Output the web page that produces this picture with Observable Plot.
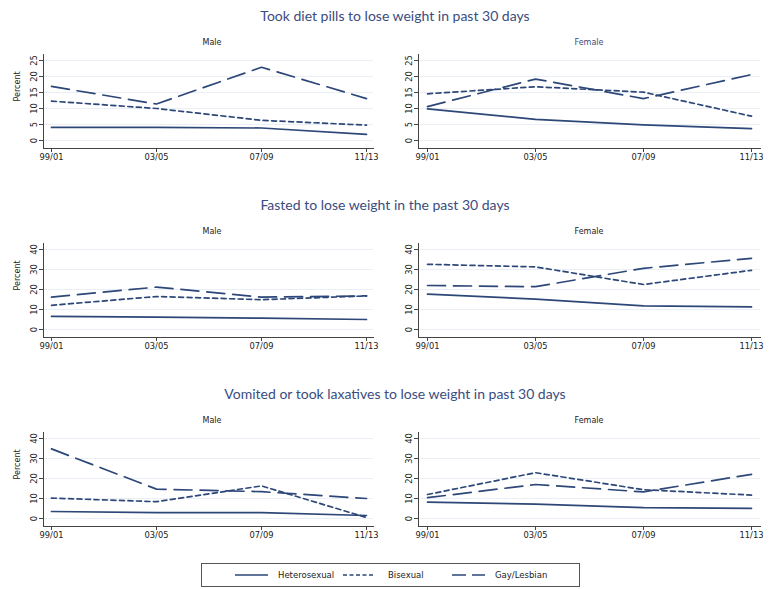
<!DOCTYPE html>
<html><head><meta charset="utf-8">
<script src="https://cdn.jsdelivr.net/npm/d3@7"></script>
<script src="https://cdn.jsdelivr.net/npm/@observablehq/plot@0.6"></script>
<style>
body{margin:0;background:#fff;}
#root{position:relative;width:770px;height:589px;overflow:hidden;font-family:"DejaVu Sans",sans-serif;}
.title{position:absolute;width:500px;text-align:center;color:#3a4c80;font-family:Lato,sans-serif;font-size:14px;line-height:20px;white-space:nowrap;}
.plabel{position:absolute;width:120px;text-align:center;font-size:8px;line-height:16px;color:#222;}
.panel{position:absolute;}
#legend{position:absolute;left:201px;top:563px;}
</style></head><body><div id="root"></div>
<script>
// ---- data ----
const periods = ["99/01", "03/05", "07/09", "11/13"];
const groups = ["Heterosexual", "Bisexual", "Gay/Lesbian"];
const sexes = ["Male", "Female"];
const rowTitles = [
  "Took diet pills to lose weight in past 30 days",
  "Fasted to lose weight in the past 30 days",
  "Vomited or took laxatives to lose weight in past 30 days"
];
const yTicksPills = [0, 5, 10, 15, 20, 25];
const yTicksOther = [0, 10, 20, 30, 40];

// Took diet pills
const pillsMaleHetero   = [4.1, 4.1, 3.9, 1.9];
const pillsMaleBi       = [12.3, 10.0, 6.3, 4.8];
const pillsMaleGay      = [16.9, 11.4, 22.9, 13.1];
const pillsFemaleHetero = [9.9, 6.6, 4.9, 3.7];
const pillsFemaleBi     = [14.6, 16.8, 15.1, 7.6];
const pillsFemaleGay    = [10.6, 19.2, 13.1, 20.6];
// Fasted
const fastMaleHetero    = [6.6, 6.2, 5.7, 5.0];
const fastMaleBi        = [12.1, 16.5, 14.9, 16.8];
const fastMaleGay       = [16.2, 21.2, 16.2, 16.8];
const fastFemaleHetero  = [17.7, 15.2, 11.8, 11.3];
const fastFemaleBi      = [32.6, 31.3, 22.5, 29.6];
const fastFemaleGay     = [22.0, 21.4, 30.6, 35.6];
// Vomited / laxatives
const vomMaleHetero     = [3.5, 2.9, 2.9, 1.5];
const vomMaleBi         = [10.2, 8.4, 16.3, 0.5];
const vomMaleGay        = [34.8, 14.7, 13.4, 10.0];
const vomFemaleHetero   = [8.2, 7.2, 5.4, 5.1];
const vomFemaleBi       = [12.0, 22.9, 14.4, 11.7];
const vomFemaleGay      = [10.4, 17.0, 13.3, 22.1];

// ---- styles ----
const lineColor = "#2d4778";
const dashes = [null, "5,3.5", "18,8"];

const root = document.getElementById("root");

function makeTable(series) {
  const rows = [];
  series.forEach((vals, gi) => vals.forEach((v, i) => rows.push({period: periods[i], group: groups[gi], value: v})));
  return rows;
}

function panel(series, yMax, yTicks, isMale) {
  const data = makeTable(series);
  return Plot.plot({
    width: 385, height: 125,
    marginLeft: isMale ? 43 : 33, marginRight: isMale ? 12 : 10,
    marginTop: 4, marginBottom: 27,
    insetLeft: 8, insetRight: isMale ? 7 : 8, insetTop: 6, insetBottom: 8,
    style: {fontFamily: "DejaVu Sans, sans-serif", fontSize: "8.3px", color: "#222", background: "transparent", overflow: "visible"},
    x: {type: "point", domain: periods, padding: 0, label: null},
    y: {domain: [0, yMax], label: null},
    marks: [
      Plot.gridY(yTicks, {stroke: "#e9eff5", strokeOpacity: 1}),
      Plot.frame({anchor: "left", stroke: "#444"}),
      Plot.frame({anchor: "bottom", stroke: "#444"}),
      Plot.axisX({tickSize: 4, tickPadding: 2, label: null, stroke: "#444"}),
      Plot.axisY(yTicks, {tickSize: 4, tickPadding: 3, tickRotate: -90, label: null, stroke: "#444"}),
      isMale ? Plot.text(["Percent"], {frameAnchor: "left", dx: -26, rotate: -90, fontSize: 8}) : null,
      ...groups.map((g, gi) => Plot.line(data.filter(d => d.group === g), {
        x: "period", y: "value", stroke: lineColor, strokeWidth: 1.7,
        strokeDasharray: dashes[gi]
      }))
    ]
  });
}

const rowSeries = [
  [[pillsMaleHetero, pillsMaleBi, pillsMaleGay], [pillsFemaleHetero, pillsFemaleBi, pillsFemaleGay]],
  [[fastMaleHetero, fastMaleBi, fastMaleGay], [fastFemaleHetero, fastFemaleBi, fastFemaleGay]],
  [[vomMaleHetero, vomMaleBi, vomMaleGay], [vomFemaleHetero, vomFemaleBi, vomFemaleGay]]
];
const rowYMax = [25, 40, 40];
const rowYTicks = [yTicksPills, yTicksOther, yTicksOther];
const titleCenters = [395, 385, 395];
const rowOffset = [0, 189, 378];

rowTitles.forEach((t, r) => {
  const off = rowOffset[r];
  const d = document.createElement("div");
  d.className = "title";
  d.textContent = t;
  d.style.left = (titleCenters[r] - 250) + "px";
  d.style.top = (6 + off) + "px";
  root.appendChild(d);

  sexes.forEach((s, si) => {
    const isMale = si === 0;
    const lab = document.createElement("div");
    lab.className = "plabel";
    lab.textContent = s;
    lab.style.left = ((isMale ? 212 : 589) - 60) + "px";
    lab.style.top = (35 + off) + "px";
    if (r === 0 && !isMale) lab.style.color = "#3a4c80";
    root.appendChild(lab);

    const svg = panel(rowSeries[r][si], rowYMax[r], rowYTicks[r], isMale);
    svg.classList.add("panel");
    svg.style.left = (isMale ? 0 : 385) + "px";
    svg.style.top = (50 + off) + "px";
    root.appendChild(svg);
  });
});

// legend
const ns = "http://www.w3.org/2000/svg";
const lg = document.createElementNS(ns, "svg");
lg.setAttribute("id", "legend");
lg.setAttribute("width", 380);
lg.setAttribute("height", 25);
const rect = document.createElementNS(ns, "rect");
rect.setAttribute("x", 0.5); rect.setAttribute("y", 0.5);
rect.setAttribute("width", 378); rect.setAttribute("height", 23);
rect.setAttribute("fill", "none"); rect.setAttribute("stroke", "#555");
lg.appendChild(rect);
const legX = [[34, 67, 77], [142, 174, 187], [251, 284, 294]];
groups.forEach((g, gi) => {
  const l = document.createElementNS(ns, "line");
  l.setAttribute("x1", legX[gi][0]); l.setAttribute("x2", legX[gi][1]);
  l.setAttribute("y1", 12); l.setAttribute("y2", 12);
  l.setAttribute("stroke", lineColor); l.setAttribute("stroke-width", 1.7);
  if (dashes[gi]) l.setAttribute("stroke-dasharray", gi === 1 ? "4,2.5" : "14,6");
  lg.appendChild(l);
  const tx = document.createElementNS(ns, "text");
  tx.setAttribute("x", legX[gi][2]); tx.setAttribute("y", 12);
  tx.setAttribute("dy", "0.35em");
  tx.setAttribute("font-size", 8.5);
  tx.setAttribute("font-family", "DejaVu Sans, sans-serif");
  tx.setAttribute("fill", "#222");
  tx.textContent = g;
  lg.appendChild(tx);
});
root.appendChild(lg);
</script>
</body></html>
